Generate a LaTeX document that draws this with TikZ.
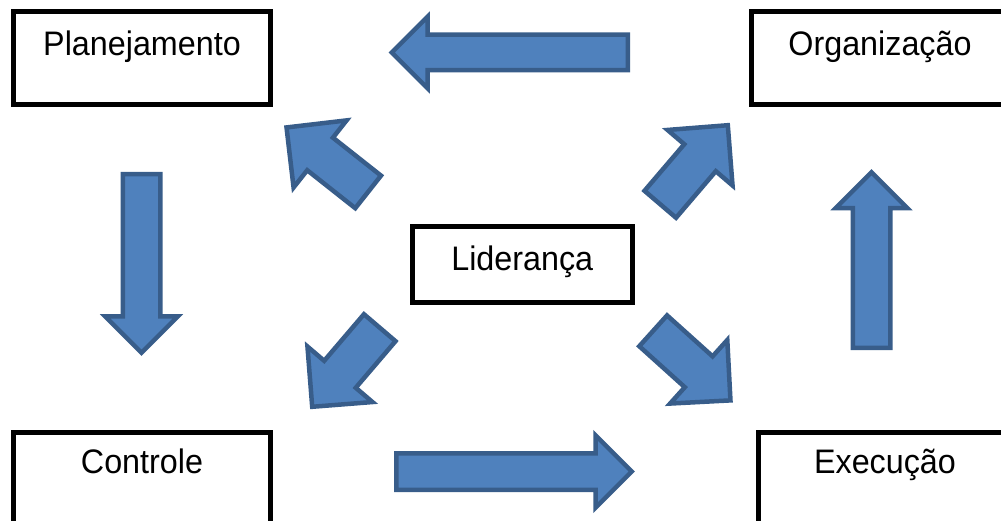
\documentclass[tikz,border=0pt]{standalone}
\usepackage{fontspec}
\setmainfont{Liberation Sans}[FakeStretch=0.95]
\usetikzlibrary{shapes.arrows}

\definecolor{arrowfill}{HTML}{4F81BD}
\definecolor{arrowline}{HTML}{385D8A}

\tikzset{
	box/.style={draw, line width=5pt, inner sep=0pt, anchor=north west, font=\fontsize{34}{40}\selectfont},
	blockarrow/.style 2 args={single arrow, draw=arrowline, fill=arrowfill, line width=4.5pt, inner xsep=0pt, inner ysep=#1, single arrow head extend=#2, anchor=tail}
}

\begin{document}
\begin{tikzpicture}[x=1pt, y=-1pt]
		\useasboundingbox (0,0) rectangle (1001,521);
		\clip (0,0) rectangle (1001,521);

		\draw (11,9.5) node[box, minimum width=257pt, text height=43.5pt, text depth=49pt] (plan) {Planejamento};
		\draw (748.5,9.5) node[box, minimum width=258pt, text height=43.5pt, text depth=49pt] (org) {Organização};
		\draw (409.5,224) node[box, minimum width=220.5pt, text height=44pt, text depth=32pt] (lid) {Liderança};
		\draw (11,429.5) node[box, minimum width=257pt, text height=41pt, text depth=100pt] (ctrl) {Controle};
		\draw (755.5,429.5) node[box, minimum width=254pt, text height=41pt, text depth=100pt] (exec) {Execução};

		\draw (630,52.5) node[blockarrow={15.5pt}{18pt}, rotate=180, minimum height=236pt] (orgplan) {};
		\draw (394,471.5) node[blockarrow={16pt}{18pt}, minimum height=235.5pt] (ctrlexec) {};
		\draw (141.5,172) node[blockarrow={16.5pt}{17.5pt}, rotate=-90, minimum height=178.5pt] (planctrl) {};
		\draw (871.5,350) node[blockarrow={16.5pt}{17pt}, rotate=90, minimum height=175.5pt] (execorg) {};

		\draw (369.9,193.3) node[blockarrow={18.5pt}{22pt}, rotate=141.7, minimum height=104pt] (lidplan) {};
		\draw (658.8,206) node[blockarrow={18.5pt}{22pt}, rotate=49.5, minimum height=104pt] (lidorg) {};
		\draw (381.2,326) node[blockarrow={18.5pt}{22pt}, rotate=229.5, minimum height=104pt] (lidctrl) {};
		\draw (651.5,329.3) node[blockarrow={18.5pt}{22pt}, rotate=-42, minimum height=104pt] (lidexec) {};
\end{tikzpicture}
\end{document}
